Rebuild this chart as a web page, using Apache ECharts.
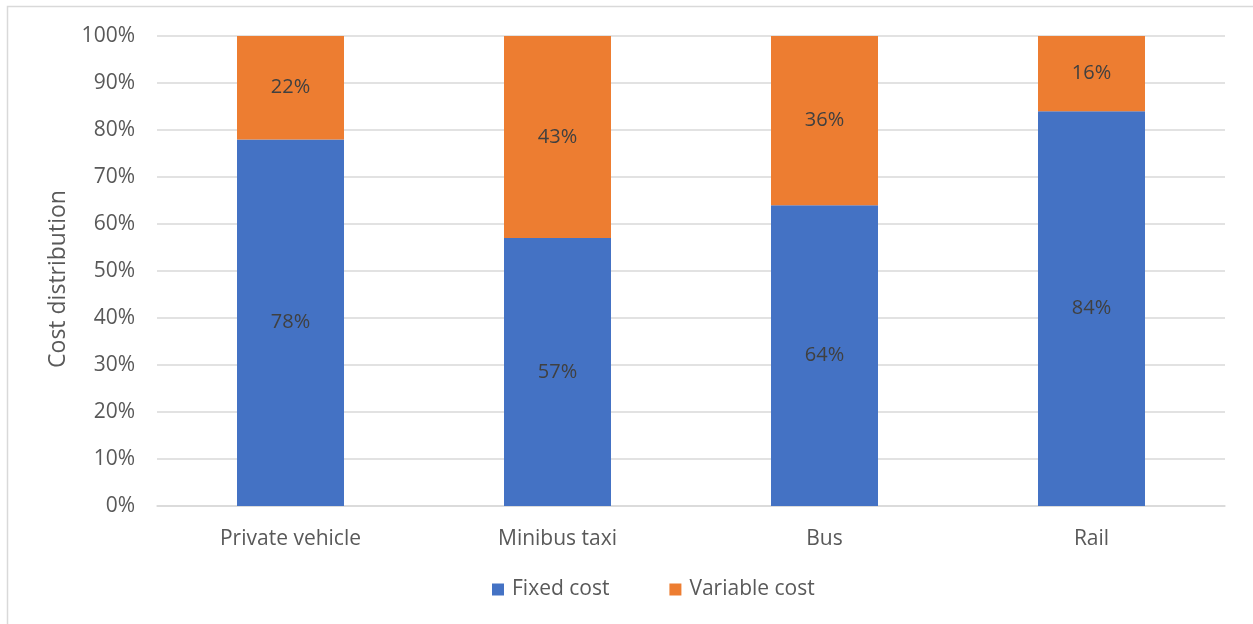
<!DOCTYPE html>
<html>
<head>
<meta charset="utf-8">
<script src="https://cdn.jsdelivr.net/npm/echarts@6/dist/echarts.min.js"></script>
<style>
  html, body { margin: 0; padding: 0; background: #fff; }
  #chart { width: 1253px; height: 624px; }
</style>
</head>
<body>
<div id="chart"></div>
<script>
const categories = ['Private vehicle', 'Minibus taxi', 'Bus', 'Rail'];
const fixedCost = [78, 57, 64, 84];
const variableCost = [22, 43, 36, 16];
const seriesNames = ['Fixed cost', 'Variable cost'];
const yTicks = [0, 10, 20, 30, 40, 50, 60, 70, 80, 90, 100];

const FONT = '"Open Sans", "Noto Sans", sans-serif';
const chart = echarts.init(document.getElementById('chart'), null, { renderer: 'canvas' });

const labelStyle = {
  show: true,
  position: 'inside',
  formatter: p => p.value + '%',
  color: '#404040',
  fontFamily: FONT,
  fontSize: 20
};

chart.setOption({
  animation: false,
  backgroundColor: '#ffffff',
  graphic: [{
    type: 'rect',
    shape: { x: 7.5, y: 6.5, width: 1260, height: 640 },
    style: { fill: 'none', stroke: '#d9d9d9', lineWidth: 1.5 },
    silent: true
  }],
  grid: { left: 157, right: 28, top: 36, bottom: 118, containLabel: false },
  legend: {
    bottom: 19,
    left: 487,
    itemWidth: 12,
    itemHeight: 12,
    itemGap: 60,
    icon: 'rect',
    textStyle: { color: '#595959', fontFamily: FONT, fontSize: 21, padding: [0, 0, 0, 3] },
    data: seriesNames
  },
  xAxis: {
    type: 'category',
    data: categories,
    axisLine: { show: true, lineStyle: { color: '#d9d9d9', width: 1.5 } },
    axisTick: { show: false },
    axisLabel: { color: '#595959', fontFamily: FONT, fontSize: 21, margin: 23 }
  },
  yAxis: {
    type: 'value',
    min: yTicks[0],
    max: yTicks[yTicks.length - 1],
    interval: 10,
    name: 'Cost distribution',
    nameLocation: 'middle',
    nameGap: 87,
    nameRotate: 90,
    nameTextStyle: { color: '#595959', fontFamily: FONT, fontSize: 23, padding: [0, 16, 0, 0] },
    axisLine: { show: false },
    axisTick: { show: false },
    splitLine: { lineStyle: { color: '#d9d9d9', width: 1.5 } },
    axisLabel: { color: '#595959', fontFamily: FONT, fontSize: 21, margin: 22, formatter: v => v + '%' }
  },
  series: [
    {
      name: seriesNames[0],
      type: 'bar',
      stack: 'cost',
      data: fixedCost,
      barWidth: 107,
      itemStyle: { color: '#4472c4' },
      label: labelStyle
    },
    {
      name: seriesNames[1],
      type: 'bar',
      stack: 'cost',
      data: variableCost,
      barWidth: 107,
      itemStyle: { color: '#ed7d31' },
      label: labelStyle
    }
  ]
});
</script>
</body>
</html>
